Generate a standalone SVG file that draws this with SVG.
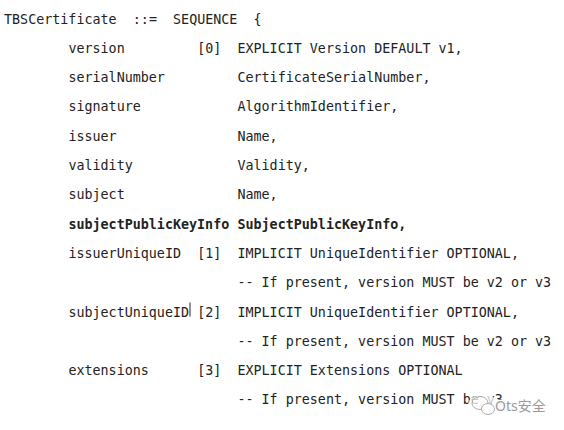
<svg xmlns="http://www.w3.org/2000/svg" width="564" height="430" viewBox="0 0 564 430">
<style>
text{font-family:"DejaVu Sans Mono","Liberation Mono",monospace;font-size:13.37px;fill:#222}
.b{font-weight:bold}
.wm{font-family:"Noto Sans","Noto Sans CJK SC",sans-serif;font-size:14px;fill:#9a9a9a;stroke:#fff;stroke-width:2.5px;paint-order:stroke}
</style>
<rect width="564" height="430" fill="#fff"/>
<g id="code">
<text y="23.5"><tspan x="4">TBSCertificate</tspan><tspan x="132.8">::=</tspan><tspan x="173.05">SEQUENCE</tspan><tspan x="253.55">{</tspan></text>
<text y="52.8"><tspan x="68.4">version</tspan><tspan x="197.2">[0]</tspan><tspan x="237.45">EXPLICIT Version DEFAULT v1,</tspan></text>
<text y="82.1"><tspan x="68.4">serialNumber</tspan><tspan x="237.45">CertificateSerialNumber,</tspan></text>
<text y="111.4"><tspan x="68.4">signature</tspan><tspan x="237.45">AlgorithmIdentifier,</tspan></text>
<text y="140.7"><tspan x="68.4">issuer</tspan><tspan x="237.45">Name,</tspan></text>
<text y="170"><tspan x="68.4">validity</tspan><tspan x="237.45">Validity,</tspan></text>
<text y="199.3"><tspan x="68.4">subject</tspan><tspan x="237.45">Name,</tspan></text>
<text y="228.6" class="b"><tspan x="68.4">subjectPublicKeyInfo</tspan><tspan x="237.45">SubjectPublicKeyInfo,</tspan></text>
<text y="257.9"><tspan x="68.4">issuerUniqueID</tspan><tspan x="197.2">[1]</tspan><tspan x="237.45">IMPLICIT UniqueIdentifier OPTIONAL,</tspan></text>
<text y="287.2"><tspan x="237.45">-- If present, version MUST be v2 or v3</tspan></text>
<text y="316.5"><tspan x="68.4">subjectUniqueID</tspan><tspan x="197.2">[2]</tspan><tspan x="237.45">IMPLICIT UniqueIdentifier OPTIONAL,</tspan></text>
<text y="345.8"><tspan x="237.45">-- If present, version MUST be v2 or v3</tspan></text>
<text y="375.1"><tspan x="68.4">extensions</tspan><tspan x="197.2">[3]</tspan><tspan x="237.45">EXPLICIT Extensions OPTIONAL</tspan></text>
<text y="404.4"><tspan x="237.45">-- If present, version MUST be v3</tspan></text>
<line x1="190" y1="302.5" x2="190" y2="316.5" stroke="#222" stroke-width="1"/>
</g>
<g id="watermark">
<ellipse cx="483" cy="405" rx="15" ry="11" fill="#fff" fill-opacity="0.75"/>
<ellipse cx="480" cy="403" rx="8" ry="6.5" fill="none" stroke="#aaa" stroke-width="1"/>
<ellipse cx="488" cy="409" rx="6.5" ry="5.5" fill="#fff" stroke="#aaa" stroke-width="1"/>
<text x="495" y="411" class="wm">Ots安全</text>
</g>
</svg>
